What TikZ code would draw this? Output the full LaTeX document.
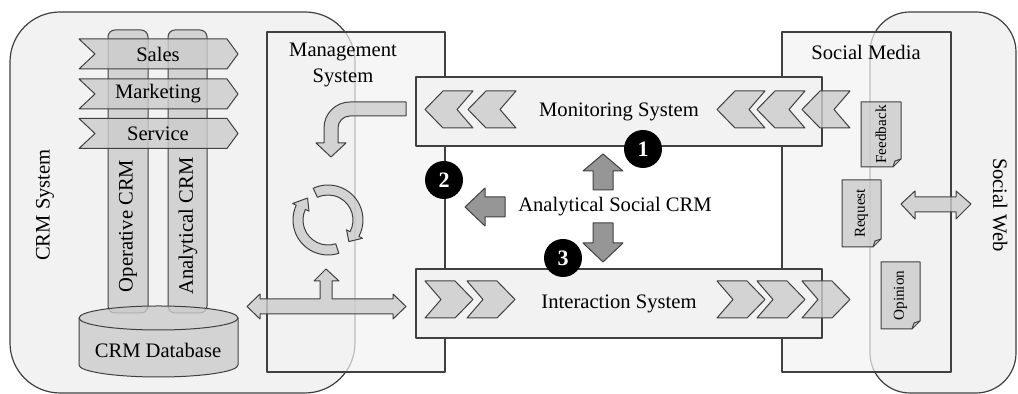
\documentclass[tikz,border=0pt]{standalone}
\usepackage{fontspec}
\setmainfont{Liberation Serif}
\usetikzlibrary{positioning}

\definecolor{boxfill}{HTML}{F2F2F2}
\definecolor{partfill}{HTML}{CCCCCC}
\definecolor{arrowfill}{HTML}{969696}
\definecolor{edge}{HTML}{404040}

\begin{document}
\begin{tikzpicture}[x=0.5pt, y=0.5pt, line join=round,
    every node/.style={font=\fontsize{10.3}{13}\selectfont, inner sep=0pt}]
            \tikzset{
                area/.style={
                        draw=edge, fill=boxfill, line width=0.6pt
                    },
                layer/.style={
                        draw=edge, fill=boxfill, fill opacity=0.7, line width=0.6pt
                    },
                part/.style={
                        draw=edge, fill=partfill, fill opacity=0.8, line width=0.5pt
                    },
                flow/.style={
                        draw=edge, fill=arrowfill, line width=0.5pt
                    },
                num/.style={
                        circle, fill=black, text=white, minimum size=19pt,
                        font=\fontsize{11}{13}\selectfont\bfseries
                    },
                doclabel/.style={
                        rotate=90, font=\fontsize{7.6}{9}\selectfont
                    }
            }
            \useasboundingbox (0,0) rectangle (1018,394);

            % Outer systems
            \draw[area, rounded corners=25pt] (10,1) rectangle (355,382);
            \draw[area, rounded corners=20pt] (870,1) rectangle (1016,382);

            % Management and social media layers
            \draw[layer] (267,22) rectangle (445,362);
            \draw[layer] (782,22) rectangle (951,362);

            % Monitoring and interaction
            \node[area, minimum width=203pt, minimum height=34.5pt] (monitor) at (619,282.5) {Monitoring System};
            \node[area, minimum width=203pt, minimum height=34.5pt] (interact) at (619,90.5) {Interaction System};

            % CRM pillars, processes and database
            \draw[part, rounded corners=3.5pt] (108,81) rectangle (148,364);
            \draw[part, rounded corners=3.5pt] (168,81) rectangle (207,364);
            \foreach \y/\txt in {340/Sales, 300/Marketing, 260.5/Service} {
                \draw[part] (79,\y+15) -- (227,\y+15) -- (238,\y) -- (227,\y-15) -- (79,\y-15) -- (95,\y) -- cycle;
                \node (\txt) at (158,\y) {\txt};
            }
            \draw[part] (79,76) -- (79,29) arc[start angle=180, end angle=360, x radius=79.5, y radius=12]
                -- (238,76) arc[start angle=0, end angle=180, x radius=79.5, y radius=12] -- cycle;
            \draw[edge, line width=0.5pt] (79,76) arc[start angle=180, end angle=360, x radius=79.5, y radius=12];
            \node (crmdb) at (158,44) {CRM Database};
            \node[rotate=90] (opcrm) at (128,168) {Operative CRM};
            \node[rotate=90] (ancrm) at (188,168) {Analytical CRM};

            % Chevrons
            \foreach \t in {425,468,717,757,802}
                \draw[part] (\t,284.5) -- (\t+18,303) -- (\t+48,303) -- (\t+32,284.5) -- (\t+48,266) -- (\t+18,266) -- cycle;
            \foreach \b in {425,467,717,757,802}
                \draw[part] (\b,113) -- (\b+30,113) -- (\b+48,94.5) -- (\b+30,76) -- (\b,76) -- (\b+16,94.5) -- cycle;

            % Management arrows
            \draw[part] (406,292) -- (350,292) arc[start angle=90, end angle=180, radius=26] -- (324,251)
                -- (316,251) -- (331,237) -- (346,251) -- (338,251) -- (338,266)
                arc[start angle=180, end angle=90, radius=12] -- (406,278) -- cycle;
            \begin{scope}[shift={(328,174)}]
                \draw[part] (115:35) arc[start angle=115, end angle=-28, radius=35] -- (-28:39) -- (-46:30)
                    -- (-28:21) -- (-28:25) arc[start angle=-28, end angle=115, radius=25] -- cycle;
                \draw[part] (-72:35) arc[start angle=-72, end angle=-205, radius=35] -- (-205:39) -- (-227:30)
                    -- (-205:21) -- (-205:25) arc[start angle=-205, end angle=-72, radius=25] -- cycle;
            \end{scope}
            \draw[part] (247,87.5) -- (260,100) -- (260,95) -- (320,95) -- (320,113) -- (314,113) -- (326,125)
                -- (339,113) -- (332,113) -- (332,95) -- (393,95) -- (393,100) -- (406,87.5) -- (393,75)
                -- (393,80) -- (260,80) -- (260,75) -- cycle;

            % Analytical social CRM
            \node (asc) at (615,187) {Analytical Social CRM};
            \draw[flow] (603,240) -- (623,223) -- (613,223) -- (613,204) -- (593,204) -- (593,223) -- (583,223) -- cycle;
            \draw[flow] (593,171) -- (613,171) -- (613,151) -- (623,151) -- (603,132) -- (583,151) -- (593,151) -- cycle;
            \draw[flow] (465,187) -- (485,206) -- (485,197) -- (505,197) -- (505,177) -- (485,177) -- (485,168) -- cycle;
            \node[num] (one) at (643,245) {1};
            \node[num] (two) at (444,214) {2};
            \node[num] (three) at (563,136) {3};

            % Social media documents
            \foreach \xa/\ya/\xb/\yb/\lbl in {861/227/901/292/Feedback, 842/147/881/214/Request, 881/65/920/132/Opinion} {
                \draw[part] (\xa,\yb) -- (\xb,\yb) -- (\xb,\ya+8) -- (\xb-8,\ya) -- (\xa,\ya) -- cycle;
                \draw[edge, line width=0.5pt] (\xb-8,\ya) -- (\xb-6,\ya+6) -- (\xb,\ya+8);
                \node[doclabel] (\lbl) at ({(\xa+\xb)/2},{(\ya+\yb)/2}) {\lbl};
            }
            \draw[part] (901,190) -- (915,203) -- (915,197) -- (956,197) -- (956,203) -- (971,190) -- (956,175)
                -- (956,182) -- (915,182) -- (915,175) -- cycle;

            % Titles
            \node[rotate=90] (crmsys) at (45,189) {CRM System};
            \node[rotate=-90] (socweb) at (1000,189) {Social Web};
            \node[align=center] (mgmt) at (343,329) {Management\\System};
            \node (socmedia) at (866,342) {Social Media};
        \end{tikzpicture}
\end{document}
